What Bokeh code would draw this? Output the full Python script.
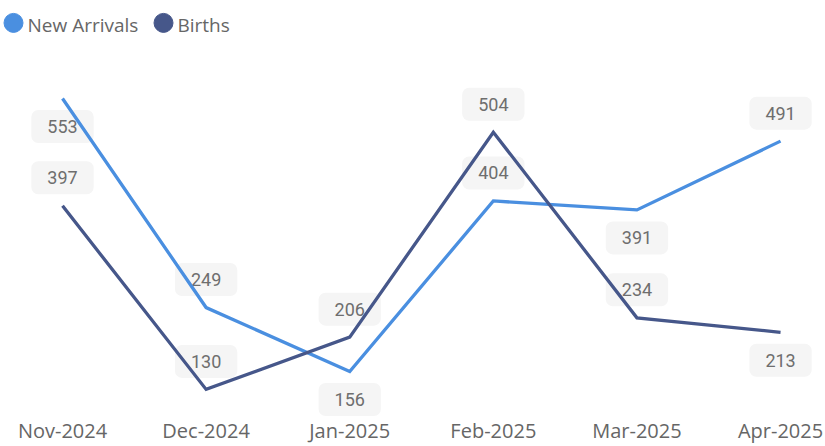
from bokeh.plotting import figure
from bokeh.models import ColumnDataSource, Range1d, FixedTicker
from bokeh.core.properties import value
from bokeh.embed import file_html
from bokeh.resources import INLINE

# ---- data ----
months = ["Nov-2024", "Dec-2024", "Jan-2025", "Feb-2025", "Mar-2025", "Apr-2025"]
new_arrivals = [553, 249, 156, 404, 391, 491]
births = [397, 130, 206, 504, 234, 213]
series_names = ["New Arrivals", "Births"]

# label placement (style): -1 above the point, +1 below
na_place = [1, -1, 1, -1, 1, -1]
bi_place = [-1, -1, -1, -1, -1, 1]

NA_COLOR = "#4A8FE0"
BI_COLOR = "#46578A"
TEXT_COLOR = "#666666"
LABEL_COLOR = "#6E6E6E"
BOX_COLOR = "#F5F5F5"

FW, FH = 825, 420
PX_PER_UNIT = 0.6877
TOP_VAL = 695.5
idx = list(range(len(months)))

p = figure(frame_width=FW, frame_height=FH, output_backend="svg", toolbar_location=None,
           x_range=Range1d(-0.4318, 5.313),
           y_range=Range1d(TOP_VAL - FH / PX_PER_UNIT, TOP_VAL),
           y_axis_location=None, min_border=0, min_border_left=0, min_border_right=0,
           min_border_top=0, min_border_bottom=0)
p.outline_line_color = None
p.xgrid.visible = False
p.ygrid.visible = False
p.background_fill_color = "white"
p.border_fill_color = "white"

# pixel-space ranges for the legend
p.extra_x_ranges = {"px_x": Range1d(0, FW)}
p.extra_y_ranges = {"px_y": Range1d(FH, 0)}

ax = p.xaxis[0]
ax.ticker = FixedTicker(ticks=idx)
ax.major_label_overrides = {i: m for i, m in zip(idx, months)}
ax.axis_line_color = None
ax.major_tick_line_color = None
ax.minor_tick_line_color = None
ax.major_label_standoff = -10
ax.major_label_text_font = "Open Sans"
ax.major_label_text_font_size = "20px"
ax.major_label_text_color = TEXT_COLOR

def labels(vals, place):
    src = ColumnDataSource(dict(x=idx, y=vals, t=[str(v) for v in vals],
                                off=[28 if pl > 0 else -28 for pl in place]))
    p.text(x="x", y="y", text="t", source=src, y_offset="off",
           text_align="center", text_baseline="middle",
           text_font=value("Roboto"), text_font_size="18px", text_color=LABEL_COLOR,
           background_fill_color=BOX_COLOR, border_radius=7,
           padding=dict(x=16, y=10))

labels(new_arrivals, na_place)
labels(births, bi_place)

p.line(idx, new_arrivals, line_color=NA_COLOR, line_width=3.3, line_join="miter")
p.line(idx, births, line_color=BI_COLOR, line_width=3.3, line_join="miter")

# legend
leg_x = [13, 163]
leg_tx = [27, 177]
for cx, tx, name, col in zip(leg_x, leg_tx, series_names, [NA_COLOR, BI_COLOR]):
    p.scatter(x=[cx], y=[22.4], size=19, fill_color=col, line_color=col,
              x_range_name="px_x", y_range_name="px_y")
    p.text(x=[tx], y=[24], text=[name], text_align="left", text_baseline="middle",
           text_font=value("Open Sans"), text_font_size="19px", text_color=TEXT_COLOR,
           x_range_name="px_x", y_range_name="px_y")

open("out.html", "w").write(file_html(p, INLINE))
